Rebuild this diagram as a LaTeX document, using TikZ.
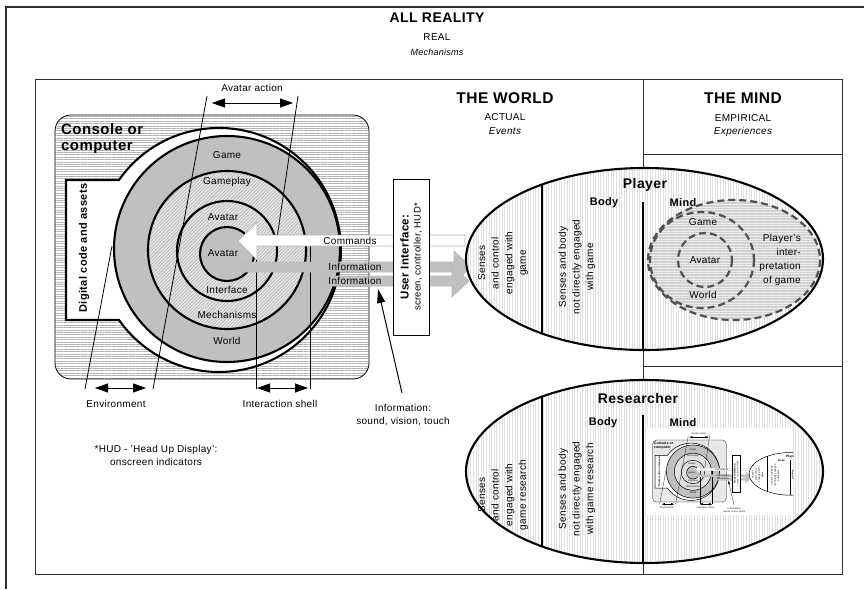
\documentclass[tikz,border=0pt]{standalone}
\usepackage{fontspec}
\setmainfont{Liberation Sans}[LetterSpace=3]
\usetikzlibrary{arrows.meta,patterns.meta}
\definecolor{ringg}{HTML}{C0C0C0}
\definecolor{framec}{HTML}{303030}
\definecolor{dashc}{HTML}{505050}
\newcommand\fsz[2]{\fontsize{#1}{#2}\selectfont}

% the console, its rings, the interface box and the information arrows
\newcommand\consolescene{%
  \draw[consolebg, thinline] (55,115) rectangle (369,379);
  \node[font=\bfseries\fsz{15}{16}, inner sep=0pt, anchor=north west, align=left] (cons) at (61,123) {Console or\\computer};
  \draw[keyhole, thickline] (119,180) arc[start angle=215, end angle=505, radius=122] -- (66,320) -- (66,180) -- cycle;
  \node[font=\bfseries\fsz{11}{13}, inner sep=0pt, rotate=90] (code) at (84,248) {Digital code and assets};
  \draw[ringgray, thickline] (227,249) circle[radius=113];
  \draw[ringhatch, thickline] (227,250) circle[radius=79];
  \draw[ringhatch, thickline] (227,251) circle[radius=50];
  \draw[ringgray, thickline] (227,254) circle[radius=27];
  \node[lab] (lgame) at (227,155) {Game};
  \node[lab] (lgameplay) at (227,182) {Gameplay};
  \node[lab] (lavout) at (223,217) {Avatar};
  \node[lab] (lavin) at (223,253) {Avatar};
  \node[lab] (linterface) at (227,290) {Interface};
  \node[lab] (lmech) at (227,315) {Mechanisms};
  \node[lab] (lworld) at (227,341) {World};
  % layer boundaries
  \coordinate (avL) at (207,96);  \coordinate (envR) at (153,389);
  \coordinate (avR) at (298,96);  \coordinate (avRend) at (277,238);
  \coordinate (envL) at (85,389); \coordinate (envLend) at (112,246);
  \coordinate (shLtop) at (256,246); \coordinate (shL) at (256,389);
  \coordinate (shRtop) at (310,240); \coordinate (shR) at (310,389);
  \draw[thinline] (avL) -- (envR);
  \draw[thinline] (avR) -- (avRend);
  \draw[thinline] (envL) -- (envLend);
  \draw[thinline] (shLtop) -- (shL);
  \draw[thinline] (shRtop) -- (shR);
  % extents
  \coordinate (aa1) at (212,103); \coordinate (aa2) at (293,103);
  \coordinate (en1) at (95,388);  \coordinate (en2) at (146,388);
  \coordinate (is1) at (257,388); \coordinate (is2) at (308,388);
  \draw[dimarrow] (aa1) -- (aa2);
  \draw[dimarrow] (en1) -- (en2);
  \draw[dimarrow] (is1) -- (is2);
  \node[lab] (lavact) at (252,88) {Avatar action};
  \node[lab] (lenv) at (116,404) {Environment};
  \node[lab] (lshell) at (280,404) {Interaction shell};
  % commands and information
  \draw[cmdarrow] (238,241) -- (257,222) -- (257,235) -- (465,235) -- (465,246) -- (257,246) -- (257,260) -- cycle;
  \draw[infoarrow] (242,262) -- (454,262) -- (454,251) -- (471,267) -- (454,283) -- (454,272) -- (242,272) -- cycle;
  \draw[infoarrow] (320,276) -- (452,276) -- (452,265) -- (469,281) -- (452,297) -- (452,286) -- (320,286) -- cycle;
  \node[lab] (lcmd) at (350,240.5) {Commands};
  \node[lab] (linfoA) at (355,267) {Information};
  \node[lab] (linfoB) at (355,281) {Information};
  \node[uibox, rotate=90, align=center] (ui) at (411,257)
    {{\bfseries\fsz{11.5}{14}User Interface:}\\{\fsz{9.5}{14}screen, controller, HUD*}};
  \node[lab, align=center] (linfo) at (403,415) {Information:\\sound, vision, touch};
  \coordinate (ptrtail) at (402,393); \coordinate (ptrtip) at (378,289);
  \draw[ptr] (ptrtail) -- (ptrtip);
}

% the player with body and mind
\newcommand\playerellipse{%
  \draw[ellfill, thickline] (644.5,259) ellipse[x radius=178.5, y radius=91];
  \begin{scope}
    \clip (644.5,259) ellipse[x radius=178.5, y radius=91];
    \draw[thickline] (542,150) -- (542,370);
  \end{scope}
  \coordinate (pdivtop) at (643,202); \coordinate (pdivbot) at (643,350);
  \draw[thickline] (pdivtop) -- (pdivbot);
  \node[font=\bfseries\fsz{14}{16}, inner sep=0pt] (lplayer) at (645,185) {Player};
  \node[font=\bfseries\fsz{11}{13}, inner sep=0pt] (lpbody) at (604,203) {Body};
  \node[font=\bfseries\fsz{11}{13}, inner sep=0pt] (lpmind) at (683,203) {Mind};
  \node[small, rotate=90, align=center] (psenses) at (503,263) {Senses\\and control\\engaged with\\game};
  \node[small, rotate=90, align=center] (pbodytxt) at (577,267) {Senses and body\\not directly engaged\\with game};
  \draw[mindfill, dashline] (734,260) ellipse[x radius=86, y radius=60];
  \draw[dashline] (702,260) ellipse[x radius=52, y radius=48];
  \draw[dashline] (705,260) circle[radius=27];
  \node[lab] (lpgame) at (703,222) {Game};
  \node[lab] (lpavatar) at (705,260) {Avatar};
  \node[lab] (lpworld) at (703,295) {World};
  \node[lab, align=right, anchor=east, font=\fsz{10}{13.8}] (lpinterp) at (801,260) {Player's\\inter-\\pretation\\of game};
}

\begin{document}
\begin{tikzpicture}[x=1pt, y=-1pt,
  thickline/.style={line width=2.1pt},
  thinline/.style={line width=0.8pt},
  framel/.style={draw=framec, line width=1pt},
  consolebg/.style={rounded corners=16pt, preaction={fill=white},
    pattern={Lines[angle=0, distance=2.4pt, line width=0.55pt]}, pattern color=gray!60},
  keyhole/.style={fill=white},
  ringgray/.style={fill=ringg},
  ringhatch/.style={preaction={fill=gray!20},
    pattern={Lines[angle=45, distance=2.4pt, line width=0.55pt]}, pattern color=gray!62},
  ellfill/.style={preaction={fill=white},
    pattern={Lines[angle=90, distance=2.6pt, line width=0.45pt]}, pattern color=gray!24},
  mindfill/.style={preaction={fill=gray!14},
    pattern={Lines[angle=0, distance=1.6pt, line width=0.4pt]}, pattern color=gray!38},
  dashline/.style={draw=dashc, line width=2.2pt, dash pattern=on 7pt off 4pt},
  cmdarrow/.style={fill=white, draw=gray!60, line width=0.7pt},
  infoarrow/.style={fill=ringg, draw=gray!55, line width=0.7pt},
  dimarrow/.style={thinline, {Triangle[length=13pt, width=9pt]}-{Triangle[length=13pt, width=9pt]}},
  ptr/.style={line width=1pt, -{Triangle[length=14pt, width=8pt]}},
  uibox/.style={draw=black, fill=white, line width=0.8pt, minimum width=156pt, minimum height=36pt, inner sep=0pt},
  lab/.style={font=\fsz{10}{13}, inner sep=0pt},
  small/.style={font=\fsz{10}{13.6}, inner sep=0pt},
  ]
\useasboundingbox (0,0) rectangle (864,589);
\fill[white] (0,0) rectangle (864,589);

\node[font=\bfseries\fsz{14}{16}, inner sep=0pt] (allreal) at (437,18) {ALL REALITY};
\node[lab] (lreal) at (437,37) {REAL};
\node[lab, font=\itshape\fsz{9}{11}] (lmechs) at (437,52) {Mechanisms};

% world and mind columns
\draw[framel] (35,79) rectangle (842,574);
\coordinate (mtop) at (643,79); \coordinate (mbot) at (643,574);
\draw[framel] (mtop) -- (mbot);
\coordinate (h1l) at (643,154); \coordinate (h1r) at (842,154);
\coordinate (h2l) at (643,366); \coordinate (h2r) at (842,366);
\draw[framel] (h1l) -- (h1r);
\draw[framel] (h2l) -- (h2r);
\node[font=\bfseries\fsz{15.5}{17}, inner sep=0pt] (lworldhd) at (505,98) {THE WORLD};
\node[lab, font=\fsz{10}{12}] (lactual) at (505,117) {ACTUAL};
\node[lab, font=\itshape\fsz{10}{12}] (levents) at (505,131) {Events};
\node[font=\bfseries\fsz{15.5}{17}, inner sep=0pt] (lmindhd) at (743,98) {THE MIND};
\node[lab, font=\fsz{10}{12}] (lempirical) at (743,118) {EMPIRICAL};
\node[lab, font=\itshape\fsz{10}{12}] (lexper) at (743,132) {Experiences};

\consolescene
\playerellipse

\node[lab, align=center] (hudnote) at (156,455.5) {*HUD - 'Head Up Display':\\onscreen indicators};

% the researcher
\draw[ellfill, thickline] (644.5,471.5) ellipse[x radius=178.5, y radius=91.5];
\begin{scope}
  \clip (644.5,471.5) ellipse[x radius=178.5, y radius=91.5];
  \draw[thickline] (542,370) -- (542,580);
\end{scope}
\coordinate (rdivtop) at (643,415); \coordinate (rdivbot) at (643,563);
\draw[thickline] (rdivtop) -- (rdivbot);
\node[font=\bfseries\fsz{14}{16}, inner sep=0pt] (lresearcher) at (638,398) {Researcher};
\node[font=\bfseries\fsz{11}{13}, inner sep=0pt] (lrbody) at (603,423) {Body};
\node[font=\bfseries\fsz{11}{13}, inner sep=0pt] (lrmind) at (683,423) {Mind};
\node[small, rotate=90, align=center] (rsenses) at (503,495) {Senses\\and control\\engaged with\\game research};
\node[small, rotate=90, align=center] (rbodytxt) at (577,489) {Senses and body\\not directly engaged\\with game research};

% the researcher's picture of the player and the game
\begin{scope}[shift={(639.6,413)}, scale=0.235, transform shape, name prefix=th-,
  thickline/.style={line width=0.5pt},
  thinline/.style={line width=0.22pt},
  consolebg/.style={rounded corners=4pt, fill=gray!18},
  ringhatch/.style={fill=gray!24},
  ellfill/.style={fill=white},
  mindfill/.style={fill=gray!12},
  dashline/.style={draw=dashc, line width=0.5pt, dash pattern=on 1.6pt off 1pt},
  cmdarrow/.style={fill=white, draw=gray!60, line width=0.2pt},
  infoarrow/.style={fill=ringg, draw=gray!55, line width=0.2pt},
  dimarrow/.style={thinline, {Triangle[length=3pt, width=2.2pt]}-{Triangle[length=3pt, width=2.2pt]}},
  ptr/.style={line width=0.25pt, -{Triangle[length=3.2pt, width=2pt]}},
  uibox/.style={draw=black, fill=white, line width=0.25pt, minimum width=156pt, minimum height=36pt, inner sep=0pt}]
  \fill[white] (31,64) rectangle (654,434);
  \clip (31,64) rectangle (654,434);
  \consolescene
  \playerellipse
\end{scope}

% outer region, open to the right and below
\coordinate (ofb) at (6,589); \coordinate (oftl) at (6,7); \coordinate (ofr) at (864,7);
\draw[draw=framec, line width=1.1pt] (ofb) -- (oftl) -- (ofr);
\end{tikzpicture}
\end{document}
